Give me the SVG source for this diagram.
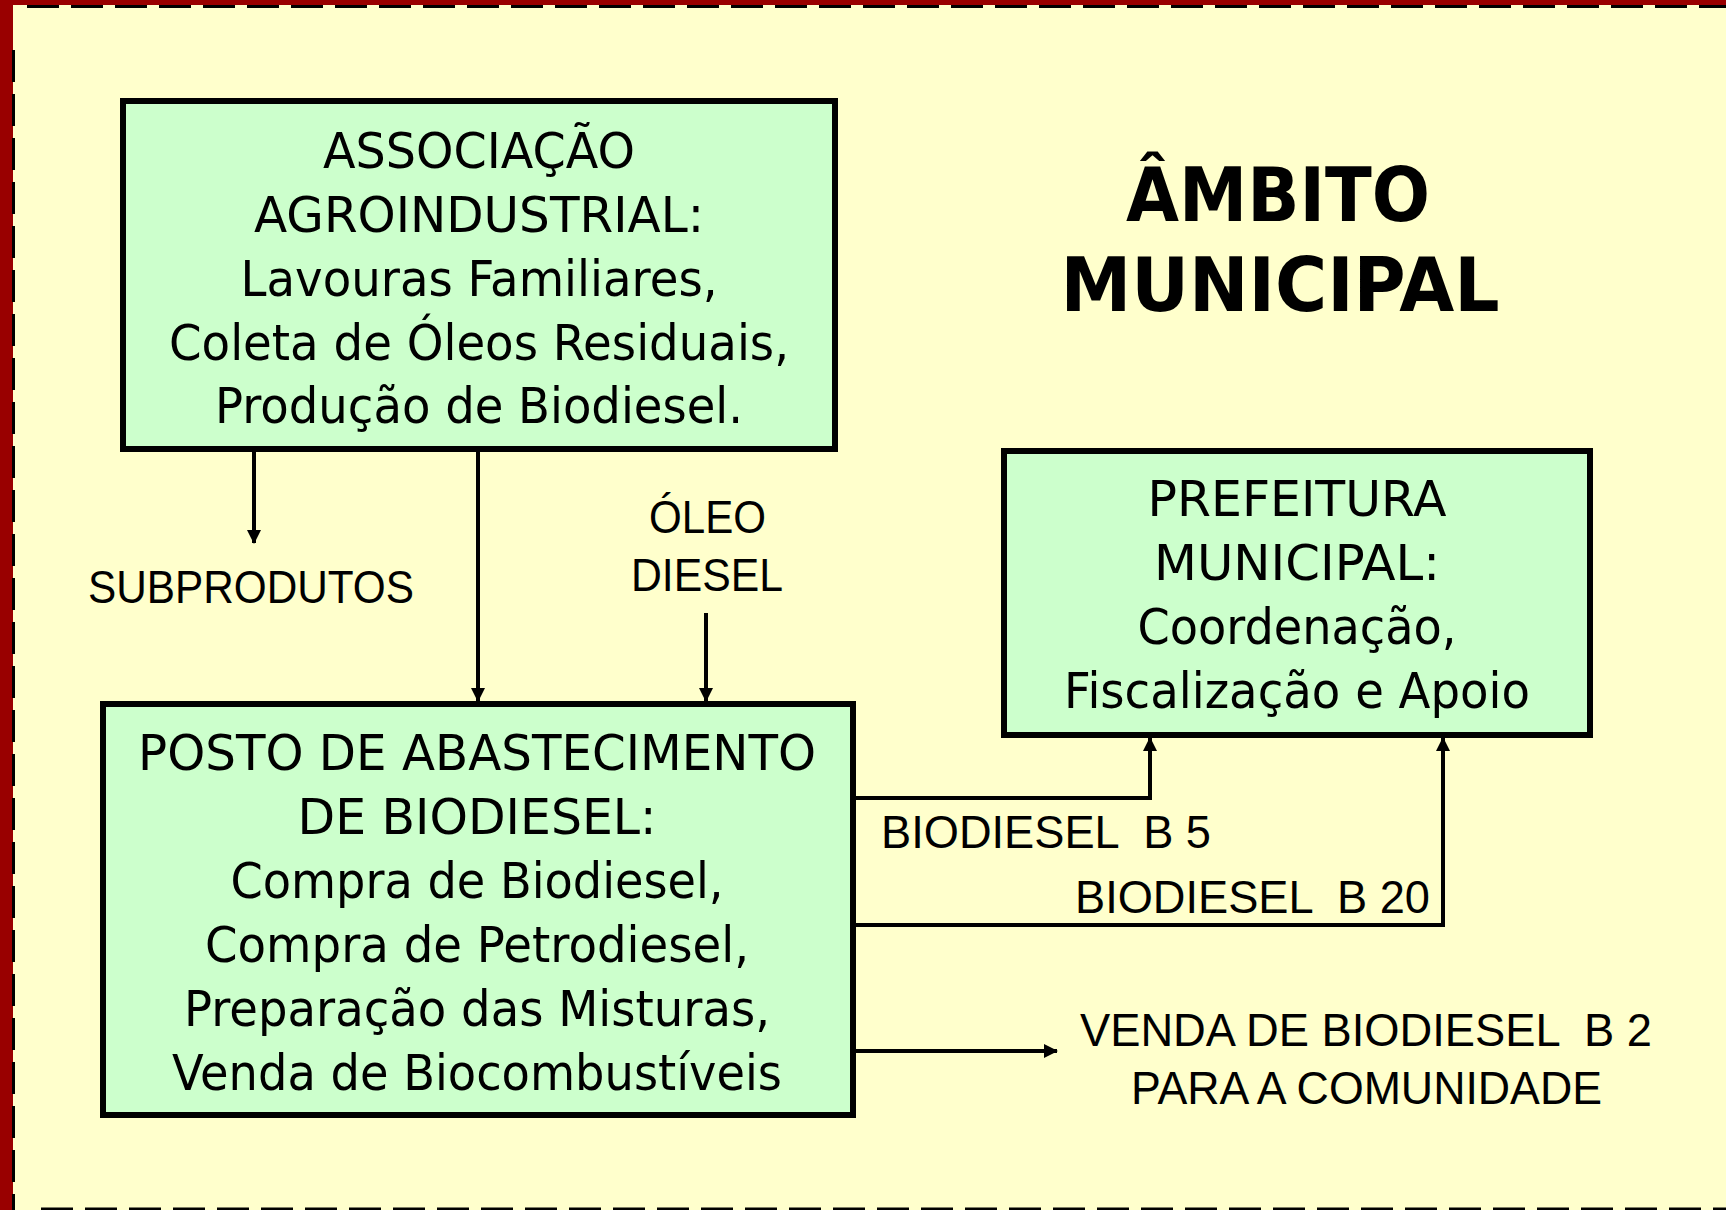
<svg xmlns="http://www.w3.org/2000/svg" width="1726" height="1210" viewBox="0 0 1726 1210">
<defs>
<marker id="arr" viewBox="0 0 14 14" refX="13" refY="7" markerWidth="14" markerHeight="14" markerUnits="userSpaceOnUse" orient="auto">
<path d="M0,0 L14,7 L0,14 Z" fill="#000"/>
</marker>
<style>
.box{fill:#CCFFCC;stroke:#000;stroke-width:6}
.t{font-family:"DejaVu Sans","Liberation Sans",sans-serif;font-size:50px;fill:#000;text-anchor:middle}
.l{font-family:"Liberation Sans","DejaVu Sans",sans-serif;font-size:46px;fill:#000;white-space:pre}
.title{font-family:"DejaVu Sans","Liberation Sans",sans-serif;font-size:75px;font-weight:bold;fill:#000;text-anchor:middle}
.c{fill:none;stroke:#000;stroke-width:4}
.dash{stroke:#000;stroke-width:3;stroke-dasharray:32 12;fill:none}
</style>
</defs>
<rect x="0" y="0" width="1726" height="1210" fill="#FFFFCC"/>
<rect x="0" y="0" width="13" height="1210" fill="#990000"/>
<rect x="0" y="0" width="1726" height="5" fill="#990000"/>
<line class="dash" x1="27" y1="6.5" x2="1726" y2="6.5"/>
<line class="dash" x1="13.5" y1="50" x2="13.5" y2="1210"/>
<line class="dash" x1="41" y1="1209" x2="1726" y2="1209"/>

<g id="title">
<text class="title" x="1278" y="221" textLength="304" lengthAdjust="spacingAndGlyphs">ÂMBITO</text>
<text class="title" x="1280" y="311" textLength="439" lengthAdjust="spacingAndGlyphs">MUNICIPAL</text>
</g>

<g id="associacao">
<rect class="box" x="123" y="101" width="712" height="348"/>
<text class="t" x="479" y="168" textLength="312" lengthAdjust="spacingAndGlyphs">ASSOCIAÇÃO</text>
<text class="t" x="479" y="232" textLength="450" lengthAdjust="spacingAndGlyphs">AGROINDUSTRIAL:</text>
<text class="t" x="479" y="296" textLength="477" lengthAdjust="spacingAndGlyphs">Lavouras Familiares,</text>
<text class="t" x="479" y="360" textLength="620" lengthAdjust="spacingAndGlyphs">Coleta de Óleos Residuais,</text>
<text class="t" x="479" y="423" textLength="528" lengthAdjust="spacingAndGlyphs">Produção de Biodiesel.</text>
</g>

<g id="posto">
<rect class="box" x="103" y="704" width="750" height="411"/>
<text class="t" x="477" y="770" textLength="678" lengthAdjust="spacingAndGlyphs">POSTO DE ABASTECIMENTO</text>
<text class="t" x="477" y="834" textLength="359" lengthAdjust="spacingAndGlyphs">DE BIODIESEL:</text>
<text class="t" x="477" y="898" textLength="493" lengthAdjust="spacingAndGlyphs">Compra de Biodiesel,</text>
<text class="t" x="477" y="962" textLength="544" lengthAdjust="spacingAndGlyphs">Compra de Petrodiesel,</text>
<text class="t" x="477" y="1026" textLength="586" lengthAdjust="spacingAndGlyphs">Preparação das Misturas,</text>
<text class="t" x="477" y="1090" textLength="610" lengthAdjust="spacingAndGlyphs">Venda de Biocombustíveis</text>
</g>

<g id="prefeitura">
<rect class="box" x="1004" y="451" width="586" height="284"/>
<text class="t" x="1297" y="516" textLength="299" lengthAdjust="spacingAndGlyphs">PREFEITURA</text>
<text class="t" x="1297" y="580" textLength="286" lengthAdjust="spacingAndGlyphs">MUNICIPAL:</text>
<text class="t" x="1297" y="644" textLength="319" lengthAdjust="spacingAndGlyphs">Coordenação,</text>
<text class="t" x="1297" y="708" textLength="466" lengthAdjust="spacingAndGlyphs">Fiscalização e Apoio</text>
</g>

<g id="connectors">
<path class="c" d="M254,452 V543" marker-end="url(#arr)"/>
<path class="c" d="M478,452 V701" marker-end="url(#arr)"/>
<path class="c" d="M706,613 V701" marker-end="url(#arr)"/>
<path class="c" d="M856,798 H1150 V738" marker-end="url(#arr)"/>
<path class="c" d="M856,925 H1443 V738" marker-end="url(#arr)"/>
<path class="c" d="M856,1051 H1057" marker-end="url(#arr)"/>
</g>

<g id="labels">
<text class="l" x="88" y="603" textLength="326" lengthAdjust="spacingAndGlyphs">SUBPRODUTOS</text>
<text class="l" x="649" y="533" textLength="117" lengthAdjust="spacingAndGlyphs">ÓLEO</text>
<text class="l" x="631" y="591" textLength="152" lengthAdjust="spacingAndGlyphs">DIESEL</text>
<text class="l" x="881" y="848" textLength="330" lengthAdjust="spacingAndGlyphs" xml:space="preserve">BIODIESEL  B 5</text>
<text class="l" x="1075" y="913" textLength="355" lengthAdjust="spacingAndGlyphs" xml:space="preserve">BIODIESEL  B 20</text>
<text class="l" x="1080" y="1046" textLength="572" lengthAdjust="spacingAndGlyphs" xml:space="preserve">VENDA DE BIODIESEL  B 2</text>
<text class="l" x="1131" y="1104" textLength="471" lengthAdjust="spacingAndGlyphs">PARA A COMUNIDADE</text>
</g>
</svg>
